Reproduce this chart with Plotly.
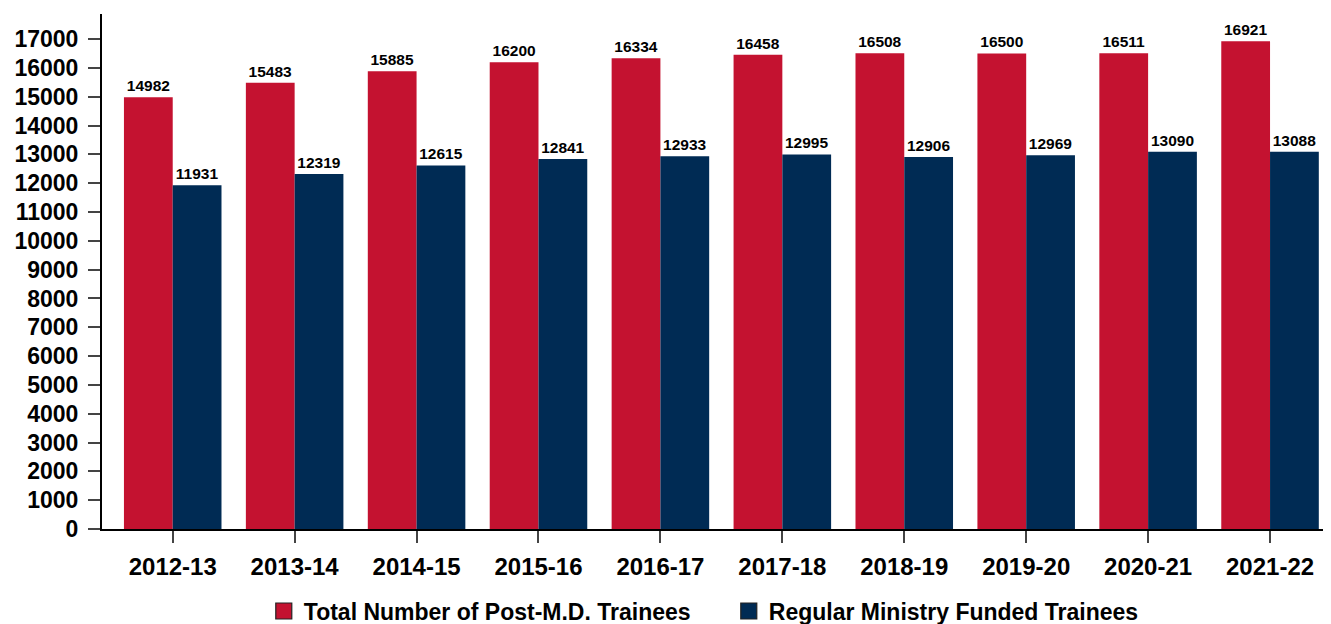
import plotly.graph_objects as go

years = ["2012-13", "2013-14", "2014-15", "2015-16", "2016-17",
         "2017-18", "2018-19", "2019-20", "2020-21", "2021-22"]
total_trainees = [14982, 15483, 15885, 16200, 16334, 16458, 16508, 16500, 16511, 16921]
ministry_funded = [11931, 12319, 12615, 12841, 12933, 12995, 12906, 12969, 13090, 13088]
series_names = ["Total Number of Post-M.D. Trainees", "Regular Ministry Funded Trainees"]

RED = "#C41230"
NAVY = "#002B54"
FONT = "Liberation Sans, Arial, sans-serif"

fig = go.Figure()
for vals, name, color in [(total_trainees, series_names[0], RED),
                          (ministry_funded, series_names[1], NAVY)]:
    fig.add_trace(go.Bar(
        x=years, y=vals, name=name, showlegend=False,
        marker=dict(color=color, line=dict(width=0)),
        text=[str(v) for v in vals], textposition="outside",
        textfont=dict(size=15.5, color="black", family=FONT, weight="bold"),
        constraintext="none", cliponaxis=False,
    ))
# legend entries (square swatches)
for name, color in [(series_names[0], RED), (series_names[1], NAVY)]:
    fig.add_trace(go.Scatter(
        x=[None], y=[None], mode="markers", name=name,
        marker=dict(symbol="square", size=16, color=color,
                    line=dict(color="#222", width=1.2)),
    ))

# body has an 8px default margin in the page; compensate
fig.update_layout(
    width=1323, height=616,
    margin=dict(l=94, r=0, t=6, b=95),
    paper_bgcolor="white", plot_bgcolor="white",
    barmode="group", bargap=0.2, bargroupgap=0,
    font=dict(family=FONT, color="black"),
    showlegend=True,
    legend=dict(orientation="h", x=0.51, xanchor="center",
                yref="container", y=0.021, yanchor="middle",
                font=dict(size=23, family=FONT, weight="bold", color="black"),
                entrywidth=420, entrywidthmode="pixels",
                traceorder="normal"),
    xaxis=dict(range=[-0.58, 9.5], showline=True, linecolor="black", linewidth=2,
               ticks="outside", ticklen=12, tickcolor="#444", tickwidth=2,
               ticklabelstandoff=3,
               tickfont=dict(size=24, family=FONT, weight="bold", color="black"),
               showgrid=False, zeroline=False),
    yaxis=dict(range=[0, 17870], dtick=1000, tick0=0, tickformat="d",
               showline=True, linecolor="black",
               linewidth=2, ticks="outside", ticklen=12, tickcolor="#444", tickwidth=2,
               ticklabelstandoff=5,
               tickfont=dict(size=23, family=FONT, weight="bold", color="black"),
               showgrid=False, zeroline=False),
)

fig.write_html("out.html")
